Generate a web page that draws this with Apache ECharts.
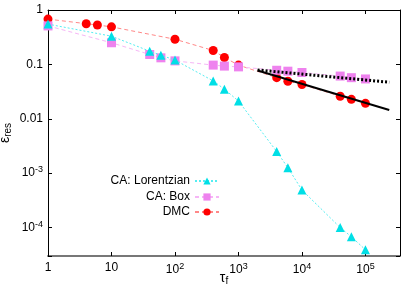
<!DOCTYPE html>
<html><head><meta charset="utf-8">
<script src="https://cdn.jsdelivr.net/npm/echarts@6/dist/echarts.min.js"></script>
<style>html,body{margin:0;padding:0;background:#fff}#c{width:415px;height:291px}</style>
</head><body><div id="c"></div>
<script>
// ---- data ----
const lorX = [1, 10, 40, 60, 100, 400, 600, 1000, 4000, 6000, 10000, 40000, 60000, 100000];
const lorY = [0.55, 0.33, 0.175, 0.148, 0.12, 0.0497, 0.035, 0.0212, 0.0025, 0.00126, 0.00049, 0.0001, 0.000068, 0.000039];
const boxX = [1, 10, 40, 60, 100, 400, 600, 1000, 4000, 6000, 10000, 40000, 60000, 100000];
const boxY = [0.51, 0.25, 0.152, 0.132, 0.116, 0.097, 0.093, 0.090, 0.078, 0.075, 0.071, 0.061, 0.057, 0.054];
const dmcX = [1, 4, 6, 10, 100, 400, 600, 1000, 4000, 6000, 10000, 40000, 60000, 100000];
const dmcY = [0.68, 0.56, 0.53, 0.49, 0.29, 0.18, 0.134, 0.097, 0.057, 0.049, 0.0426, 0.026, 0.0228, 0.0192];
const fitDmcX = [2000, 237000];
const fitDmcY = [0.077, 0.0145];
const fitBoxX = [2000, 237000];
const fitBoxY = [0.079, 0.047];
const names = ['CA: Lorentzian', 'CA: Box', 'DMC'];

const zip = (xs, ys) => xs.map((x, i) => [x, ys[i]]);
const FONT = 'Liberation Sans';

function isPow(v) { const l = Math.log10(v); return Math.abs(l - Math.round(l)) < 1e-6; }
function fmt(v) {
  if (!isPow(v)) return '';
  const e = Math.round(Math.log10(v));
  if (e === 0) return '{n|1}';
  if (e === 1) return '{n|10}';
  if (e === -1) return '{n|0.1}';
  if (e === -2) return '{n|0.01}';
  return '{n|10}{s|' + e + '}';
}
const rich = {
  n: { fontSize: 12, fontFamily: FONT, color: '#000' },
  s: { fontSize: 9, fontFamily: FONT, color: '#000', padding: [0, 0, 7, 0] }
};

const chart = echarts.init(document.getElementById('c'), null, { renderer: 'canvas' });
const axCommon = {
  type: 'log', logBase: 10,
  splitLine: { show: false },
  minorTick: { show: false },
  axisTick: { show: true, inside: true, length: 4, lineStyle: { color: '#000', width: 1 } }
};
chart.setOption({
  animation: false,
  backgroundColor: '#fff',
  textStyle: { fontFamily: FONT },
  grid: { left: 48, right: 15, top: 10, bottom: 35, containLabel: false, outerBoundsMode: 'none' },
  xAxis: [
    Object.assign({}, axCommon, {
      min: 1, max: 350000, position: 'bottom',
      axisLine: { show: true, lineStyle: { color: '#777', width: 2 } },
      axisLabel: { formatter: fmt, rich: rich, margin: 6 },
      name: '{t|τ}{f|f}', nameLocation: 'middle', nameGap: 14, nameMoveOverlap: false,
      nameTextStyle: { rich: {
        t: { fontSize: 14, fontFamily: FONT, color: '#000' },
        f: { fontSize: 10, fontFamily: FONT, color: '#000', padding: [6, 0, 0, 0] }
      } }
    }),
    Object.assign({}, axCommon, {
      min: 1, max: 350000, position: 'top',
      axisLine: { show: true, lineStyle: { color: '#000', width: 1 } },
      axisLabel: { show: false }
    })
  ],
  yAxis: [
    Object.assign({}, axCommon, {
      min: 0.00003, max: 1, position: 'left',
      axisLine: { show: true, lineStyle: { color: '#000', width: 1 } },
      axisLabel: { formatter: fmt, rich: rich, margin: 5 },
      name: '{e|ε}{r|res}', nameLocation: 'middle', nameRotate: 90, nameGap: 27, nameMoveOverlap: false,
      nameTextStyle: { padding: [0, 0, 8, 0], rich: {
        e: { fontSize: 14, fontFamily: FONT, color: '#000' },
        r: { fontSize: 10, fontFamily: FONT, color: '#000', padding: [6, 0, 0, 0] }
      } }
    }),
    Object.assign({}, axCommon, {
      min: 0.00003, max: 1, position: 'right',
      axisLine: { show: true, lineStyle: { color: '#000', width: 1 } },
      axisLabel: { show: false }
    })
  ],
  legend: [0, 1, 2].map((i) => ({
    data: [names[i]], orient: 'vertical', align: 'right',
    right: 195, top: [175, 191, 206][i], padding: 0,
    itemWidth: 24, itemHeight: 9, itemGap: 0,
    textStyle: { fontSize: 12, fontFamily: FONT, color: '#000' }
  })),
  series: [
    { name: 'DMC', type: 'line', data: zip(dmcX, dmcY), symbol: 'circle', symbolSize: 9,
      itemStyle: { color: '#ff0000' }, lineStyle: { color: '#ff8888', width: 1, type: [4, 3] }, z: 2 },
    { name: 'CA: Box', type: 'line', data: zip(boxX, boxY), symbol: 'rect', symbolSize: 9,
      itemStyle: { color: '#ee82ee' }, lineStyle: { color: '#f6b6f6', width: 1, type: [4, 3] }, z: 3 },
    { name: 'CA: Lorentzian', type: 'line', data: zip(lorX, lorY), symbol: 'triangle', symbolSize: 9,
      itemStyle: { color: '#00dfe6' }, lineStyle: { color: '#55eef2', width: 1, type: [2, 2] }, z: 4 },
    { name: 'fitDMC', type: 'line', data: zip(fitDmcX, fitDmcY), symbol: 'none',
      lineStyle: { color: '#000', width: 2 }, z: 5 },
    { name: 'fitBox', type: 'line', data: zip(fitBoxX, fitBoxY), symbol: 'none',
      lineStyle: { color: '#000', width: 3, type: [2, 2], cap: 'butt' }, z: 5 }
  ]
});
</script></body></html>
